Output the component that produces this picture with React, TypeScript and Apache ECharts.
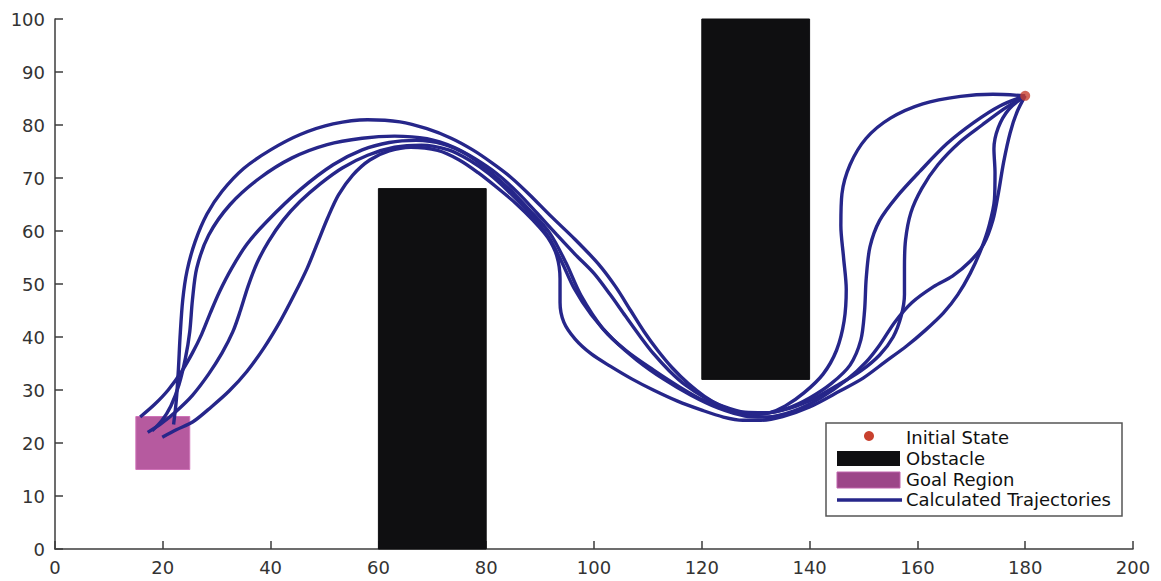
import React, { useEffect, useRef } from "react";
import * as echarts from "echarts";

const xTicks = [0, 20, 40, 60, 80, 100, 120, 140, 160, 180, 200];
const yTicks = [0, 10, 20, 30, 40, 50, 60, 70, 80, 90, 100];

const initialState = [[180, 85.5]];
// [x1, y1, x2, y2]
const obstacles = [
  [60, 0, 80, 68],
  [120, 32, 140, 100],
];
const goalRegion = [[15, 15, 25, 25]];

const traj1 = [
  [22, 23.5], [22.5, 28], [22.9, 34], [23.2, 40], [23.7, 47], [24.5, 52.5], [26, 58],
  [28.2, 63.2], [31, 67.5], [35, 71.8], [40, 75.3], [45.5, 78.2], [51.6, 80.2], [58, 81],
  [64, 80.6], [69, 79.3], [73.5, 77.5], [77.5, 75.3], [81, 72.9], [84.5, 70.2], [88, 66.9],
  [92, 62.8], [96.5, 58.4], [100.8, 53.8], [104, 49.5], [106.8, 45], [109.3, 41], [111.8, 37.5],
  [114.5, 34.2], [117.5, 31.2], [120.5, 28.8], [123.5, 27], [126.5, 25.9], [129.5, 25.4],
  [132.5, 25.7], [135.5, 27], [139, 29.5], [142.5, 33], [145, 37.5], [146.4, 43], [146.8, 49],
  [146.3, 55], [145.8, 61], [146, 67], [147.5, 72.5], [150.5, 77.5], [155, 81.3], [161, 84],
  [168, 85.4], [174, 85.8], [180, 85.5],
];
const traj2 = [
  [18, 22.3], [19.8, 24.2], [21.5, 27], [23, 31], [24.2, 36], [25, 41], [25.5, 47], [26.3, 53],
  [28.5, 59.2], [32.5, 65], [38, 70], [44, 73.8], [50.5, 76.3], [57, 77.5], [63, 77.9],
  [69, 77.4], [74, 75.8], [78, 73.6], [82, 70.8], [86, 67.1], [89.5, 63.3], [93, 59.4],
  [96.5, 55.6], [100, 52], [103, 48], [105.8, 44], [108.5, 40.2], [111, 36.9], [114, 33.6],
  [117, 30.9], [120.5, 28.6], [124, 26.9], [128, 25.8], [132, 25.7], [136, 26.6], [140, 28.5],
  [144, 31.2], [147.5, 34.7], [149.5, 39.4], [150.2, 45], [150.5, 51], [151.2, 57], [153, 62],
  [156.2, 66.5], [160.5, 71.3], [165.5, 76.5], [170.5, 80.5], [175.3, 83.6], [180, 85.5],
];
const traj3 = [
  [15.8, 24.9], [18.5, 27.3], [21, 30], [23.5, 33.5], [25.5, 37], [27.2, 40.5], [28.8, 44.5],
  [30.5, 48.5], [32.8, 53], [35.6, 57.5], [39.3, 61.8], [45.5, 67.8], [51.6, 72.5], [57, 75.3],
  [62, 76.7], [67, 77.1], [72, 76.4], [76.5, 74.4], [80, 71.8], [84, 68.2], [88, 64],
  [91.8, 59.6], [94.8, 54], [97.6, 47.8], [101.7, 41.5], [106, 37.4], [111, 33.8], [116, 30.5],
  [120.2, 28.1], [125, 26.3], [130, 25.5], [135, 26.2], [140, 28], [145, 30.8], [149.5, 33.6],
  [153, 36.6], [155.5, 40], [157, 44], [157.6, 48], [157.6, 53], [157.8, 58.3], [158.8, 63.5],
  [160.8, 68], [163.8, 72.5], [167.9, 76.8], [172, 80], [176, 83], [180, 85.5],
];
const traj4 = [
  [17.2, 22], [19.5, 23.5], [22.5, 26], [25.5, 29], [28.5, 33], [31, 37], [33, 41], [34.4, 45],
  [35.8, 49.5], [37.5, 54], [39.6, 58], [42.3, 62], [45.5, 65.6], [49.2, 68.9], [53.3, 71.9],
  [58, 74.3], [63, 75.8], [68, 76.2], [73, 75.3], [77, 73.3], [80.5, 70.8], [84, 67.6],
  [88, 63.4], [91.5, 59], [94, 54.2], [96.3, 49.2], [99.5, 44.2], [103.5, 39.6], [108, 35.6],
  [113, 32], [118, 29], [123, 26.6], [128, 25.1], [132, 24.9], [137, 26], [142, 28.5],
  [147, 32], [150.5, 35.3], [153, 38.5], [155.8, 42.8], [159, 46.5], [163, 49.5], [166.5, 51.5],
  [169.8, 54.3], [172.3, 57.5], [174, 62], [175, 67], [176, 73], [177.2, 78.5], [178.5, 82.5],
  [180, 85.5],
];
const traj5 = [
  [19.9, 21.1], [22.5, 22.5], [25.6, 24], [29, 26.8], [32.3, 29.8], [35.6, 33.5], [38.8, 38],
  [41.8, 43], [44.4, 48], [46.8, 53], [48.8, 58], [50.6, 62.5], [52.6, 66.8], [55.2, 70.5],
  [58.4, 73.4], [62, 75.1], [66, 75.8], [71, 75.2], [75, 73.4], [78.5, 71], [82, 68.2],
  [85.5, 65.2], [88.7, 62], [91.4, 58.8], [93.1, 55.3], [93.7, 51], [93.7, 46.5], [94.4, 42.8],
  [96.5, 39.6], [99.5, 36.8], [103, 34.5], [107, 32.1], [111, 30], [115.5, 27.9], [120, 26.2],
  [124, 24.9], [127.6, 24.3], [131, 24.3], [135, 25], [140, 26.8], [145.6, 29.8], [150, 32.3],
  [154, 35.3], [158, 38.3], [161.5, 41.3], [164.8, 44.5], [167.5, 48], [169.8, 52],
  [171.8, 56.5], [173.3, 61], [174.3, 66], [174.4, 71], [174.2, 75.5], [175, 79.5], [177, 83],
  [180, 85.5],
];

const trajectories = [traj1, traj2, traj3, traj4, traj5];

const TRAJ_COLOR = "#26268a";
const OBST_COLOR = "#0f0f11";
const GOAL_COLOR = "#b65a9f";
const DOT_COLOR = "#c8412e";
const FONT = "DejaVu Sans";

function rectRender(fill: string, stroke?: string) {
  return (params: any, api: any) => {
    const p1 = api.coord([api.value(0), api.value(3)]);
    const p2 = api.coord([api.value(2), api.value(1)]);
    return {
      type: "rect",
      shape: { x: p1[0], y: p1[1], width: p2[0] - p1[0], height: p2[1] - p1[1] },
      style: { fill, stroke: stroke || fill, lineWidth: 1 },
    };
  };
}

export default function App() {
  const ref = useRef<HTMLDivElement>(null);
  useEffect(() => {
    if (!ref.current) return;
    const chart = echarts.init(ref.current, null, { renderer: "svg" });
    const axisCommon = {
      axisLine: { show: true, lineStyle: { color: "#3c3c3c", width: 1.5 } },
      axisTick: { show: true, inside: true, length: 8, lineStyle: { color: "#3c3c3c", width: 1.5 } },
      splitLine: { show: false },
    };
    const lx = 837;
    const textStyle = (t: string) => ({
      text: t,
      font: `18px "${FONT}"`,
      fill: "#111",
      verticalAlign: "middle",
    });
    chart.setOption({
      animation: false,
      backgroundColor: "#ffffff",
      grid: { left: 55, right: 28, top: 19, bottom: 32 },
      xAxis: {
        type: "value",
        min: xTicks[0],
        max: xTicks[xTicks.length - 1],
        interval: 20,
        ...axisCommon,
        axisLabel: { color: "#333", fontSize: 18, fontFamily: FONT, margin: 9 },
      },
      yAxis: {
        type: "value",
        min: yTicks[0],
        max: yTicks[yTicks.length - 1],
        interval: 10,
        ...axisCommon,
        axisLabel: { color: "#333", fontSize: 18, fontFamily: FONT, margin: 10 },
      },
      series: [
        {
          type: "custom",
          name: "Obstacle",
          renderItem: rectRender(OBST_COLOR),
          encode: { x: [0, 2], y: [1, 3] },
          data: obstacles,
          z: 1,
        },
        {
          type: "custom",
          name: "Goal Region",
          renderItem: rectRender(GOAL_COLOR, "#cf72b8"),
          encode: { x: [0, 2], y: [1, 3] },
          data: goalRegion,
          z: 1,
        },
        ...trajectories.map((t, i) => ({
          type: "line",
          name: "Calculated Trajectories " + (i + 1),
          data: t,
          showSymbol: false,
          smooth: 0.3,
          lineStyle: { color: TRAJ_COLOR, width: 3.4 },
          z: 3,
        })),
        {
          type: "scatter",
          name: "Initial State",
          data: initialState,
          symbolSize: 10,
          itemStyle: { color: DOT_COLOR },
          z: 5,
        },
      ],
      graphic: [
        {
          type: "group",
          z: 100,
          children: [
            {
              type: "rect",
              shape: { x: 826, y: 423, width: 296, height: 93 },
              style: { fill: "#ffffff", stroke: "#555", lineWidth: 1.5 },
            },
            { type: "circle", shape: { cx: 869, cy: 436, r: 5 }, style: { fill: DOT_COLOR } },
            { type: "text", x: 906, y: 437, style: textStyle("Initial State") },
            { type: "rect", shape: { x: lx, y: 451, width: 63, height: 15 }, style: { fill: OBST_COLOR } },
            { type: "text", x: 906, y: 458, style: textStyle("Obstacle") },
            {
              type: "rect",
              shape: { x: lx, y: 472, width: 63, height: 16 },
              style: { fill: "#9c4588", stroke: "#c064ad", lineWidth: 1 },
            },
            { type: "text", x: 906, y: 479, style: textStyle("Goal Region") },
            { type: "line", shape: { x1: lx, y1: 500, x2: 902, y2: 500 }, style: { stroke: TRAJ_COLOR, lineWidth: 3.4 } },
            { type: "text", x: 906, y: 499, style: textStyle("Calculated Trajectories") },
          ],
        },
      ],
    });
    return () => chart.dispose();
  }, []);
  return (
    <div
      ref={ref}
      style={{ position: "absolute", left: 0, top: 0, width: 1161, height: 581, background: "#fff" }}
    />
  );
}
